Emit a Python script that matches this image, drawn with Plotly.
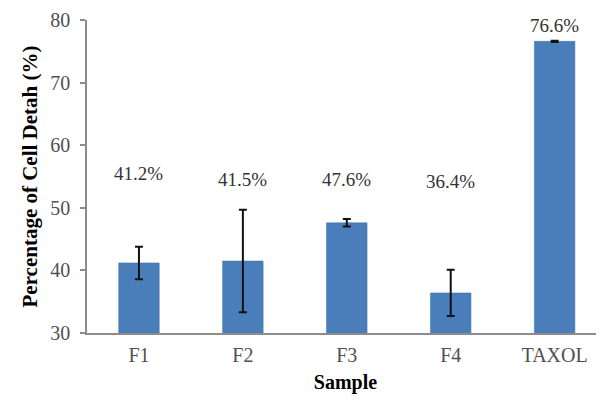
import plotly.graph_objects as go

samples = ["F1", "F2", "F3", "F4", "TAXOL"]
death_pct = [41.2, 41.5, 47.6, 36.4, 76.6]
err = [2.6, 8.2, 0.6, 3.7, 0.1]
labels = ["41.2%", "41.5%", "47.6%", "36.4%", "76.6%"]
label_y = [55.5, 54.5, 54.5, 54.2, 79.1]
y_ticks = [30, 40, 50, 60, 70, 80]

fig = go.Figure()
fig.add_trace(go.Bar(
    x=samples, y=death_pct,
    marker=dict(color="#4A7EBB", line=dict(color="#3F6FA8", width=0.5)),
    width=0.39,
    error_y=dict(type="data", array=err, visible=True, color="#111111", thickness=2, width=4),
))

for s, ly, t in zip(samples, label_y, labels):
    fig.add_annotation(x=s, y=ly, text=t, showarrow=False,
                       font=dict(family="Liberation Serif", size=19, color="#333333"),
                       xref="x", yref="y")

# page body has an 8px margin, so margins are offset to place the plot area
fig.update_layout(
    width=604, height=402,
    margin=dict(l=79, r=8, t=12, b=77),
    paper_bgcolor="white", plot_bgcolor="white",
    showlegend=False,
    font=dict(family="Liberation Serif", color="#595959"),
)
fig.update_xaxes(
    range=[-0.5, 4.475], automargin=False,
    showline=True, linecolor="#8C8C8C", linewidth=1.5,
    ticks="", showgrid=False,
    tickfont=dict(family="Liberation Serif", size=20, color="#505050"),
    ticklabelstandoff=3,
    title=dict(text="<b>Sample</b>", font=dict(family="Liberation Serif", size=20, color="#000000"), standoff=10),
)
fig.update_yaxes(
    range=[30, 80.01], automargin=False, ticklabeloverflow="allow",
    tickmode="array", tickvals=y_ticks, ticktext=[str(v) for v in y_ticks],
    showline=True, linecolor="#8C8C8C", linewidth=1.5,
    ticks="outside", ticklen=5, tickcolor="#8C8C8C", tickwidth=1.5,
    showgrid=False, zeroline=False,
    tickfont=dict(family="Liberation Serif", size=20, color="#505050"),
    ticklabelstandoff=6,
    title=dict(text="<b>Percentage of Cell Detah (%)</b>", font=dict(family="Liberation Serif", size=21, color="#000000"), standoff=7),
)

fig.write_html("out.html")
